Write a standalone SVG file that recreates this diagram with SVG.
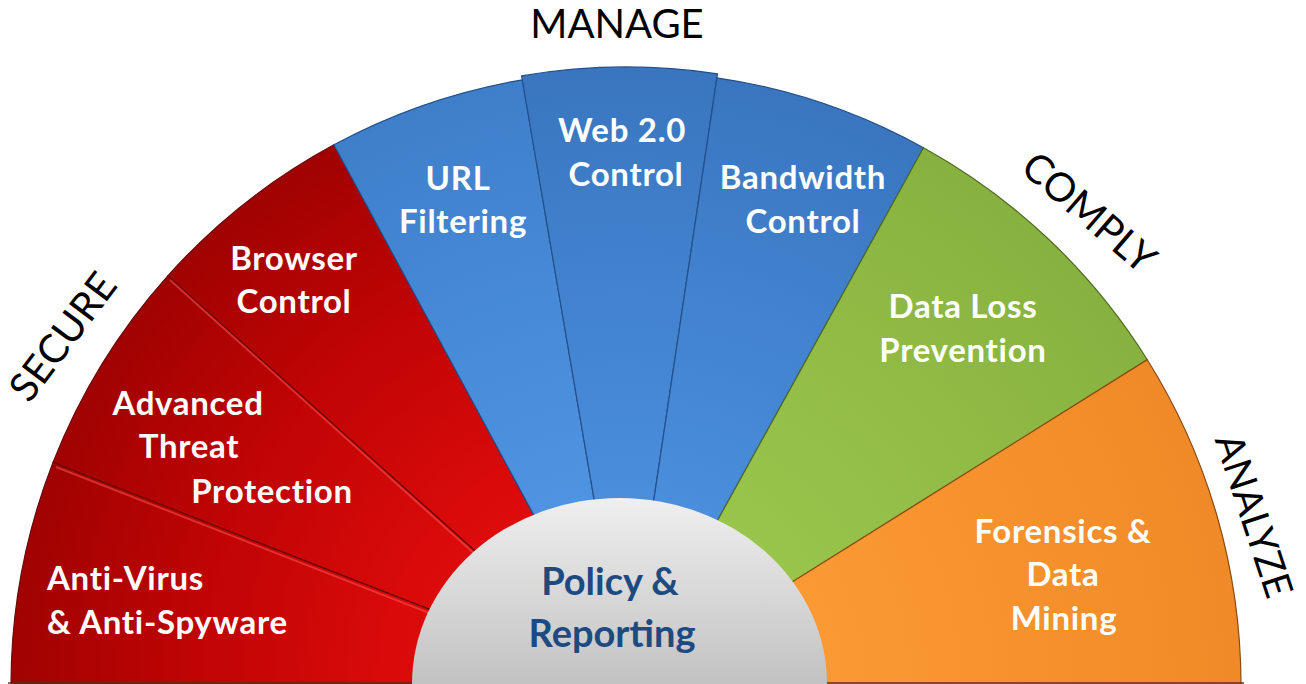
<svg xmlns="http://www.w3.org/2000/svg" width="1306" height="684" viewBox="0 0 1306 684">
<defs>
<radialGradient id="gRed" gradientUnits="userSpaceOnUse" cx="626" cy="686" r="615">
<stop offset="0.3" stop-color="#e00c0c"/><stop offset="0.7" stop-color="#c00404"/><stop offset="1" stop-color="#a00202"/>
</radialGradient>
<radialGradient id="gBlue" gradientUnits="userSpaceOnUse" cx="626" cy="686" r="615">
<stop offset="0.3" stop-color="#4a8edc"/><stop offset="1" stop-color="#3a76c0"/>
</radialGradient>
<radialGradient id="gBlueL" gradientUnits="userSpaceOnUse" cx="626" cy="686" r="615">
<stop offset="0.3" stop-color="#4f94e2"/><stop offset="1" stop-color="#3f7fca"/>
</radialGradient>
<radialGradient id="gGreen" gradientUnits="userSpaceOnUse" cx="626" cy="686" r="615">
<stop offset="0.3" stop-color="#9ac54c"/><stop offset="1" stop-color="#88b23f"/>
</radialGradient>
<radialGradient id="gOrange" gradientUnits="userSpaceOnUse" cx="626" cy="686" r="615">
<stop offset="0.3" stop-color="#fb9a34"/><stop offset="1" stop-color="#f08a28"/>
</radialGradient>
<linearGradient id="gHub" x1="0" y1="0" x2="0" y2="1">
<stop offset="0" stop-color="#efefef"/><stop offset="1" stop-color="#c2c2c2"/>
</linearGradient>
<style>
.lbl{font-family:Lato,"Open Sans","Liberation Sans",sans-serif;font-weight:700;font-size:33px;letter-spacing:0.7px;fill:#ffffff;text-anchor:middle}
.lbl-s{text-anchor:start}
.cat{font-family:Lato,"Open Sans","Liberation Sans",sans-serif;font-weight:400;font-size:40px;fill:#000000;text-anchor:middle}
.hub{font-family:Lato,"Open Sans","Liberation Sans",sans-serif;font-weight:700;font-size:38px;fill:#1e4a82;text-anchor:middle}
.red{fill:url(#gRed);stroke:#6a0a0a;stroke-width:1.2}
.blue{fill:url(#gBlue);stroke:#23508a;stroke-width:1.2}
.green{fill:url(#gGreen);stroke:#4f6a22;stroke-width:1.2}
.orange{fill:url(#gOrange);stroke:#8a4a14;stroke-width:1.2}
.hl{stroke:#ff5a5a;stroke-width:2;opacity:0.5;fill:none}
</style>
</defs>
<rect width="1306" height="684" fill="#ffffff"/>

<g id="sector-antivirus">
<path class="red" d="M626 686 L11 686 A615 615 0 0 1 53.1 462.3 Z"/>
<text class="lbl lbl-s" x="47" y="590">Anti-Virus</text>
<text class="lbl lbl-s" x="47" y="634">&amp; Anti-Spyware</text>
</g>
<g id="sector-advanced-threat">
<path class="red" d="M626 686 L53.1 462.3 A615 615 0 0 1 167.8 275.8 Z"/>
<text class="lbl" x="188" y="415">Advanced</text>
<text class="lbl" x="189" y="458">Threat</text>
<text class="lbl" x="272" y="503">Protection</text>
</g>
<g id="sector-browser-control">
<path class="red" d="M626 686 L167.8 275.8 A615 615 0 0 1 333.9 144.8 Z"/>
<text class="lbl" x="294" y="270">Browser</text>
<text class="lbl" x="294" y="313">Control</text>
</g>
<g id="sector-url-filtering">
<path class="blue" style="fill:url(#gBlueL)" d="M626 686 L333.9 144.8 A615 615 0 0 1 522.4 79.8 Z"/>
<text class="lbl" x="458" y="190">URL</text>
<text class="lbl" x="463" y="233">Filtering</text>
</g>
<g id="sector-web20-control">
<path class="blue" d="M626 686 L521.6 75.9 A619 619 0 0 1 717.5 73.8 Z"/>
<text class="lbl" x="622" y="142">Web 2.0</text>
<text class="lbl" x="626" y="186">Control</text>
</g>
<g id="sector-bandwidth-control">
<path class="blue" d="M626 686 L716.9 77.8 A615 615 0 0 1 923.5 147.8 Z"/>
<text class="lbl" x="803" y="189">Bandwidth</text>
<text class="lbl" x="803" y="233">Control</text>
</g>
<g id="sector-data-loss-prevention">
<path class="green" d="M626 686 L923.5 147.8 A615 615 0 0 1 1147.3 359.7 Z"/>
<text class="lbl" x="963" y="318">Data Loss</text>
<text class="lbl" x="963" y="362">Prevention</text>
</g>
<g id="sector-forensics">
<path class="orange" d="M626 686 L1147.3 359.7 A615 615 0 0 1 1241 686 Z"/>
<text class="lbl" x="1063" y="543">Forensics &amp;</text>
<text class="lbl" x="1063" y="586">Data</text>
<text class="lbl" x="1064" y="630">Mining</text>
</g>

<g id="separators">
<line class="hl" x1="56" y1="467" x2="626" y2="690"/>
<line class="hl" x1="170" y1="280" x2="626" y2="690"/>
<line x1="8" y1="683" x2="1244" y2="683" stroke="#5a2a1a" stroke-width="2" opacity="0.7"/>
</g>

<g id="hub-policy-reporting">
<path d="M412 684 A207.5 186 0 0 1 827 684 Z" fill="url(#gHub)"/>
<text class="hub" x="610" y="595">Policy &amp;</text>
<text class="hub" x="612" y="647">Reporting</text>
</g>

<g id="categories">
<text class="cat" x="617" y="38">MANAGE</text>
<text class="cat" transform="translate(74,345) rotate(-53)">SECURE</text>
<text class="cat" transform="translate(1080,223) rotate(40.7)">COMPLY</text>
<text class="cat" style="font-size:39px" transform="translate(1241,520) rotate(71.8)">ANALYZE</text>
</g>
</svg>
